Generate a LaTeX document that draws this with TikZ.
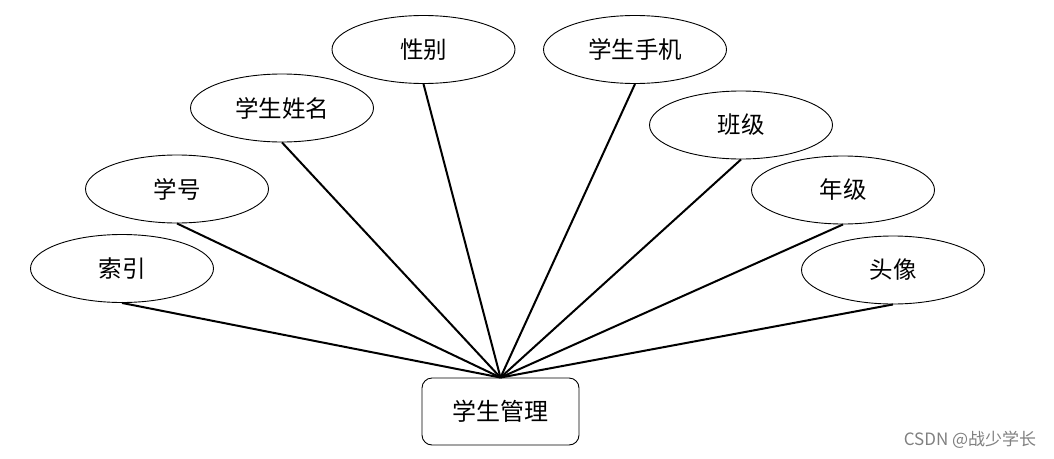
\documentclass[tikz,border=0pt]{standalone}
\usepackage{fontspec}
\newfontfamily\cjk{Noto Sans CJK SC}
\usetikzlibrary{shapes.geometric}
\begin{document}
\begin{tikzpicture}[x=1pt,y=-1pt,
  attr/.style={ellipse,draw,line width=0.9pt,minimum width=183pt,minimum height=68pt,inner sep=0pt,font=\cjk\fontsize{23.5}{26}\selectfont},
  ent/.style={draw,line width=0.9pt,rounded corners=10pt,minimum width=157pt,minimum height=67pt,inner sep=0pt,font=\cjk\fontsize{24}{28}\selectfont},
  link/.style={line width=2pt}]
\useasboundingbox (0,0) rectangle (1054,458);
\node[ent] (m) at (500.5,411.5) {学生管理};
\node[attr] (a1) at (122,268.5) {索引};
\node[attr] (a2) at (177,189) {学号};
\node[attr] (a3) at (282,108) {学生姓名};
\node[attr] (a4) at (423.5,49.5) {性别};
\node[attr] (a5) at (635,49.5) {学生手机};
\node[attr] (a6) at (741,125) {班级};
\node[attr] (a7) at (843,190) {年级};
\node[attr] (a8) at (893,270) {头像};
\foreach \n in {a1,a2,a3,a4,a5,a6,a7,a8} \draw[link] (\n.south) -- (m.north);
\node[text=gray,font=\cjk\fontsize{17}{20}\selectfont] (wm) at (970,440) {CSDN @战少学长};
\end{tikzpicture}
\end{document}
